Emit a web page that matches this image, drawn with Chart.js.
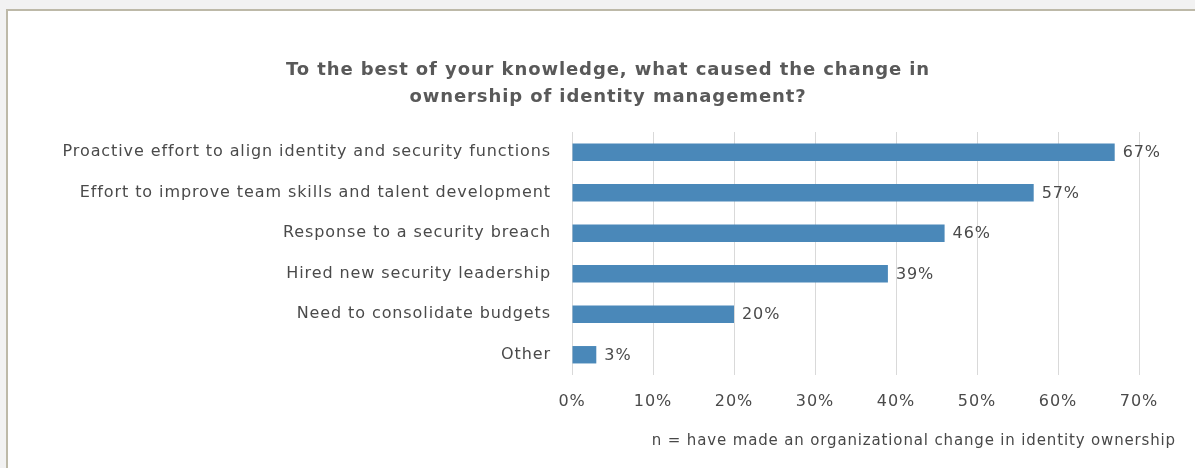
<!DOCTYPE html>
<html>
<head>
<meta charset="utf-8">
<script src="https://cdn.jsdelivr.net/npm/chart.js@4"></script>
<style>
  html, body { margin: 0; padding: 0; background: #f2f2f2; overflow: hidden; width: 1195px; height: 468px; }
  #frame {
    position: absolute; left: 6px; top: 9px; width: 1189px; height: 459px;
    background: #fff; border-left: 2px solid #bdb9a8; border-top: 2px solid #bdb9a8;
  }
  #wrap { position: absolute; left: 0; top: 0; width: 1195px; height: 468px; }
  #note {
    position: absolute; right: 19px; top: 431px; letter-spacing: 0.85px;
    font-family: "DejaVu Sans", sans-serif; font-size: 15px; color: #484848;
  }
</style>
</head>
<body>
<div id="frame"></div>
<div id="wrap"><canvas id="ownerChart"></canvas></div>
<div id="note">n = have made an organizational change in identity ownership</div>
<script>
// Reasons and share of respondents (%)
const reasons = [
  'Proactive effort to align identity and security functions',
  'Effort to improve team skills and talent development',
  'Response to a security breach',
  'Hired new security leadership',
  'Need to consolidate budgets',
  'Other'
];
const shares = [67, 57, 46, 39, 20, 3];
const axisTicks = [0, 10, 20, 30, 40, 50, 60, 70];

const labelFont = { family: '"DejaVu Sans", sans-serif', size: 16 };
const textColor = '#4a4a4a';

// Wider tracking for all canvas text
const wideText = {
  id: 'wideText',
  beforeDraw(chart) {
    chart.ctx.letterSpacing = '0.9px';
  }
};

// Center the title a little right of the full width
const titleShift = {
  id: 'titleShift',
  afterLayout(chart) {
    const t = chart.titleBlock;
    if (t) {
      t.left += 56;
    }
  }
};

// Percent labels at the end of each bar
const barValueLabels = {
  id: 'barValueLabels',
  afterDatasetsDraw(chart) {
    const ctx = chart.ctx;
    const meta = chart.getDatasetMeta(0);
    ctx.save();
    ctx.font = '16px "DejaVu Sans", sans-serif';
    ctx.fillStyle = textColor;
    ctx.textAlign = 'left';
    ctx.textBaseline = 'middle';
    meta.data.forEach((bar, i) => {
      ctx.fillText(shares[i] + '%', bar.x + 8, bar.y + 1);
    });
    ctx.restore();
  }
};

document.addEventListener('DOMContentLoaded', () => {
  const ctx = document.getElementById('ownerChart').getContext('2d');
  new Chart(ctx, {
    type: 'bar',
    data: {
      labels: reasons,
      datasets: [{
        data: shares,
        backgroundColor: '#4a88b9',
        barPercentage: 0.86,
        categoryPercentage: 0.5
      }]
    },
    options: {
      indexAxis: 'y',
      responsive: true,
      maintainAspectRatio: false,
      animation: false,
      layout: { padding: { left: 21, right: 56, top: 0, bottom: 0 } },
      scales: {
        x: {
          min: 0,
          max: 70,
          afterBuildTicks: scale => { scale.ticks = axisTicks.map(v => ({ value: v })); },
          afterFit: scale => { scale.height = 93; },
          grid: { color: '#d9d9d9', lineWidth: 1, drawTicks: false },
          border: { display: false },
          ticks: {
            padding: 17,
            color: textColor,
            font: labelFont,
            callback: v => v + '%'
          }
        },
        y: {
          afterFit: scale => { scale.width = 551; },
          grid: { display: false, drawTicks: false },
          border: { display: false },
          ticks: { padding: 21, color: textColor, font: labelFont }
        }
      },
      plugins: {
        legend: { display: false },
        tooltip: { enabled: false },
        title: {
          display: true,
          text: ['To the best of your knowledge, what caused the change in', 'ownership of identity management?'],
          color: '#595959',
          font: { family: '"DejaVu Sans", sans-serif', size: 18, weight: 'bold', lineHeight: 1.5 },
          padding: { top: 57, bottom: 21 }
        }
      }
    },
    plugins: [wideText, titleShift, barValueLabels]
  });
});
</script>
</body>
</html>
